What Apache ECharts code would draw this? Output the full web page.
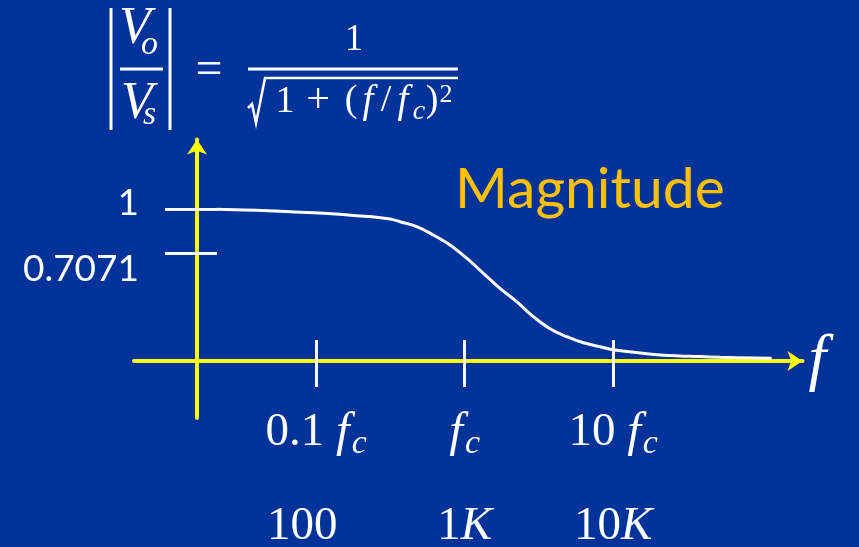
<!DOCTYPE html>
<html>
<head>
<meta charset="utf-8">
<script src="https://cdn.jsdelivr.net/npm/echarts@6/dist/echarts.min.js"></script>
<style>
  html, body { margin: 0; padding: 0; background: #003399; }
  #chartBox { width: 859px; height: 547px; }
</style>
</head>
<body>
<div id="chartBox"></div>
<script>
// curve: frequency (Hz) vs |Vo/Vs|
const freqs = [21.4, 39.8, 66.7, 112, 187, 314, 367, 475, 615, 796, 1032, 1335, 1730, 2240, 2898, 3760, 4864, 6300, 8160, 10290, 15170, 20650, 32800, 52360, 116800];
const mags = [0.998, 0.991, 0.982, 0.972, 0.956, 0.934, 0.916, 0.884, 0.829, 0.763, 0.676, 0.577, 0.478, 0.390, 0.292, 0.212, 0.160, 0.120, 0.094, 0.072, 0.053, 0.039, 0.031, 0.024, 0.018];

// x ticks (0.1 fc, fc, 10 fc) and their values in Hz
const xTickFreqs = [100, 1000, 10000];
const xTickRatio = ['0.1 ', '', '10 '];
const xTickHz = ['100', '1', '10'];
const xTickKilo = [false, true, true];

// y ticks
const yTicks = [0.7071, 1];
const yTickLabels = ['0.7071', '1'];

const WHITE = '#ffffff';
const YELLOW = '#ffff00';
const SERIF = 'Liberation Serif';
const SANS = 'Lato';

// x is drawn on a log10 frequency axis
const xMin = 0.7733, xMax = 5.275;
const yMin = -0.375, yMax = 1.457;

const lineData = freqs.map((f, i) => [Math.log10(f), mags[i]]);
const xTickVals = xTickFreqs.map(f => Math.log10(f));

function tickIndex(v) {
  return xTickVals.findIndex(t => Math.abs(t - v) < 1e-6);
}

function ratioLabel(v) {
  const i = tickIndex(v);
  if (i < 0) return '';
  return (xTickRatio[i] ? '{n|' + xTickRatio[i] + '}' : '') + '{f|f}{c|c}';
}

function hzLabel(v) {
  const i = tickIndex(v);
  if (i < 0) return '';
  // the "100" sits a little left of its tick in the original
  if (!xTickKilo[i]) return '{m|' + xTickHz[i] + '}';
  return '{n|' + xTickHz[i] + '}{k|K}';
}

function yLabel(v) {
  const i = yTicks.findIndex(t => Math.abs(t - v) < 1e-9);
  if (i < 0) return '';
  return (yTicks[i] === 1 ? '{a|' : '{b|') + yTickLabels[i] + '}';
}

const serifRich = {
  n: { fontFamily: SERIF, fontSize: 47, color: WHITE, lineHeight: 56 },
  m: { fontFamily: SERIF, fontSize: 47, color: WHITE, lineHeight: 56, padding: [0, 28, 0, 0] },
  f: { fontFamily: SERIF, fontStyle: 'italic', fontSize: 49, color: WHITE, lineHeight: 56 },
  c: { fontFamily: SERIF, fontStyle: 'italic', fontSize: 34, color: WHITE, lineHeight: 34, padding: [22, 0, 0, 2] },
  k: { fontFamily: SERIF, fontStyle: 'italic', fontSize: 47, color: WHITE, lineHeight: 56 }
};

const myChart = echarts.init(document.getElementById('chartBox'));

const option = {
  animation: false,
  backgroundColor: '#003399',
  grid: {
    left: 134,
    right: 56.5,
    top: 139.5,
    bottom: 129,
    containLabel: false,
    outerBoundsMode: 'none'
  },
  xAxis: [
    {
      type: 'value',
      min: xMin,
      max: xMax,
      position: 'bottom',
      name: 'f',
      nameLocation: 'end',
      nameGap: 6,
      nameTextStyle: { fontFamily: SERIF, fontStyle: 'italic', fontSize: 64, color: WHITE },
      axisLine: {
        show: true,
        onZero: true,
        onZeroAxisIndex: 0,
        symbol: ['none', 'arrow'],
        symbolSize: [15, 15],
        lineStyle: { color: YELLOW, width: 4 }
      },
      axisTick: { show: true, length: 26, customValues: xTickVals, lineStyle: { color: WHITE, width: 3 } },
      axisLabel: {
        show: true,
        customValues: xTickVals,
        margin: -13,
        formatter: ratioLabel,
        rich: serifRich
      },
      splitLine: { show: false }
    },
    {
      type: 'value',
      min: xMin,
      max: xMax,
      position: 'bottom',
      axisLine: { show: false, onZero: true, onZeroAxisIndex: 0 },
      axisTick: { show: true, inside: true, length: 21, customValues: xTickVals, lineStyle: { color: WHITE, width: 3 } },
      axisLabel: {
        show: true,
        customValues: xTickVals,
        margin: 81,
        formatter: hzLabel,
        rich: serifRich
      },
      splitLine: { show: false }
    }
  ],
  yAxis: [
    {
      type: 'value',
      min: yMin,
      max: yMax,
      position: 'left',
      offset: -63,
      axisLine: {
        show: true,
        onZero: false,
        symbol: ['none', 'arrow'],
        symbolSize: [15, 15],
        lineStyle: { color: YELLOW, width: 4 }
      },
      axisTick: { show: true, length: 32, customValues: yTicks, lineStyle: { color: WHITE, width: 3 } },
      axisLabel: {
        show: true,
        customValues: yTicks,
        margin: 58,
        formatter: yLabel,
        rich: {
          a: { fontFamily: SANS, fontSize: 37, color: WHITE, padding: [0, 0, 12, 0] },
          b: { fontFamily: SANS, fontSize: 37, color: WHITE, padding: [31, 0, 0, 0] }
        }
      },
      splitLine: { show: false }
    },
    {
      type: 'value',
      min: yMin,
      max: yMax,
      position: 'left',
      offset: -63,
      axisLine: { show: false, onZero: false },
      axisTick: { show: true, inside: true, length: 20, customValues: yTicks, lineStyle: { color: WHITE, width: 3 } },
      axisLabel: { show: false },
      splitLine: { show: false }
    }
  ],
  graphic: [
    // |Vo / Vs|
    { type: 'line', shape: { x1: 111, y1: 8, x2: 111, y2: 130 }, style: { stroke: WHITE, lineWidth: 3 } },
    { type: 'line', shape: { x1: 170, y1: 8, x2: 170, y2: 130 }, style: { stroke: WHITE, lineWidth: 3 } },
    { type: 'line', shape: { x1: 120, y1: 69, x2: 163, y2: 69 }, style: { stroke: WHITE, lineWidth: 3 } },
    { type: 'text', x: 119, y: 29, style: { text: 'V', fill: WHITE, font: 'italic 52px "Liberation Serif"', align: 'left', verticalAlign: 'middle' } },
    { type: 'text', x: 141, y: 45, style: { text: 'o', fill: WHITE, font: 'italic 34px "Liberation Serif"', align: 'left', verticalAlign: 'middle' } },
    { type: 'text', x: 121, y: 104, style: { text: 'V', fill: WHITE, font: 'italic 52px "Liberation Serif"', align: 'left', verticalAlign: 'middle' } },
    { type: 'text', x: 143, y: 115, style: { text: 's', fill: WHITE, font: 'italic 34px "Liberation Serif"', align: 'left', verticalAlign: 'middle' } },
    { type: 'text', x: 209, y: 71, style: { text: '=', fill: WHITE, font: '48px "Liberation Serif"', align: 'center', verticalAlign: 'middle' } },
    // 1 / sqrt(1 + (f/fc)^2)
    { type: 'text', x: 354, y: 40, style: { text: '1', fill: WHITE, font: '37px "Liberation Serif"', align: 'center', verticalAlign: 'middle' } },
    { type: 'line', shape: { x1: 248, y1: 69, x2: 458, y2: 69 }, style: { stroke: WHITE, lineWidth: 3 } },
    { type: 'polyline', shape: { points: [[248, 108], [252, 104], [256, 123], [265, 78], [458, 78]] }, style: { stroke: WHITE, lineWidth: 2.5, fill: null } },
    { type: 'text', x: 285, y: 102, style: { text: '1', fill: WHITE, font: '38px "Liberation Serif"', align: 'center', verticalAlign: 'middle' } },
    { type: 'text', x: 318, y: 101, style: { text: '+', fill: WHITE, font: '42px "Liberation Serif"', align: 'center', verticalAlign: 'middle' } },
    { type: 'text', x: 351, y: 101, style: { text: '(', fill: WHITE, font: '38px "Liberation Serif"', align: 'center', verticalAlign: 'middle' } },
    { type: 'text', x: 368, y: 102, style: { text: 'f', fill: WHITE, font: 'italic 39px "Liberation Serif"', align: 'center', verticalAlign: 'middle' } },
    { type: 'text', x: 386, y: 101, style: { text: '/', fill: WHITE, font: '38px "Liberation Serif"', align: 'center', verticalAlign: 'middle' } },
    { type: 'text', x: 403, y: 102, style: { text: 'f', fill: WHITE, font: 'italic 39px "Liberation Serif"', align: 'center', verticalAlign: 'middle' } },
    { type: 'text', x: 419, y: 112, style: { text: 'c', fill: WHITE, font: 'italic 28px "Liberation Serif"', align: 'center', verticalAlign: 'middle' } },
    { type: 'text', x: 432, y: 101, style: { text: ')', fill: WHITE, font: '38px "Liberation Serif"', align: 'center', verticalAlign: 'middle' } },
    { type: 'text', x: 446, y: 95, style: { text: '2', fill: WHITE, font: '26px "Liberation Serif"', align: 'center', verticalAlign: 'middle' } },
    { type: 'text', x: 455, y: 190, style: { text: 'Magnitude', fill: '#ffc000', font: '57px Lato', align: 'left', verticalAlign: 'middle' } }
  ],
  series: [
    {
      name: 'Magnitude',
      type: 'line',
      xAxisIndex: 0,
      yAxisIndex: 0,
      smooth: 0.4,
      symbol: 'none',
      lineStyle: { color: WHITE, width: 3 },
      data: lineData
    }
  ]
};

myChart.setOption(option);
</script>
</body>
</html>
